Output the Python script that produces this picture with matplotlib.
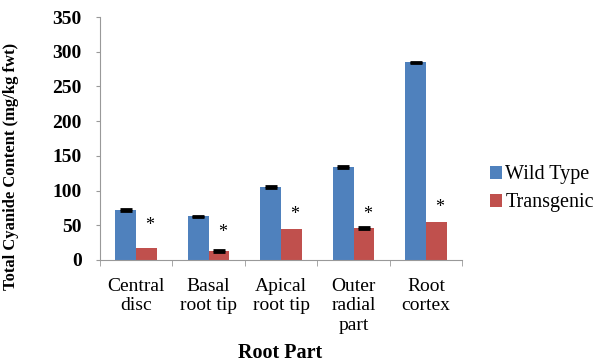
import numpy as np
import matplotlib.pyplot as plt

parts = ['Central\ndisc', 'Basal\nroot tip', 'Apical\nroot tip', 'Outer\nradial\npart', 'Root\ncortex']
wild_type = [72, 63, 105, 134, 285]
wild_err = [1.5, 1.0, 1.0, 1.0, 1.0]
transgenic = [17, 13, 45, 46, 54]
trans_err = [0, 1.0, 0, 0.8, 0]
star_y = [49, 40, 65, 65, 75]

plt.rcParams['font.family'] = ['Liberation Serif', 'DejaVu Serif']

fig = plt.figure(figsize=(5.98, 3.64), dpi=100)
ax = fig.add_axes([0.167, 0.286, 0.606, 0.667])

x = np.arange(len(parts))
w = 0.285
ax.bar(x - w/2, wild_type, w, color='#4F81BD', label='Wild Type')
ax.bar(x + w/2, transgenic, w, color='#C0504D', label='Transgenic')

# error bars only where an error was recorded
ekw = dict(fmt='none', ecolor='black', capsize=4, elinewidth=1, capthick=2)
for xs, vals, errs in [(x - w/2, wild_type, wild_err), (x + w/2, transgenic, trans_err)]:
    for xi, v, e in zip(xs, vals, errs):
        if e > 0:
            ax.errorbar(xi, v, yerr=e, **ekw)

# significance markers
for xi, sy in zip(x, star_y):
    ax.text(xi + w/2 + 0.05, sy, '*', ha='center', va='center', fontsize=13)

ax.set_xlim(-0.5, len(parts) - 0.5)
ax.set_ylim(0, 350)
ax.set_yticks(np.arange(0, 351, 50))
ax.set_yticklabels([str(v) for v in range(0, 351, 50)], fontweight='bold', fontsize=14)
ax.set_xticks(x)
ax.set_xticklabels(parts, fontsize=14, linespacing=1.18)
ax.tick_params(axis='x', length=0, pad=13)
ax.set_xticks(np.arange(-0.5, len(parts), 1), minor=True)
ax.tick_params(axis='x', which='minor', length=4, color='#999999')
ax.tick_params(axis='y', length=3, color='#999999', pad=10)

for s in ['top', 'right']:
    ax.spines[s].set_visible(False)
for s in ['left', 'bottom']:
    ax.spines[s].set_color('#999999')

fig.text(11/598, 1 - 166/364, 'Total Cyanide Content (mg/kg fwt)', rotation=90,
         ha='center', va='center', fontweight='bold', fontsize=12)
fig.text(0.468, 1 - 353/364, 'Root Part', ha='center', va='center',
         fontweight='bold', fontsize=14.5)

ax.legend(loc='center left', bbox_to_anchor=(1.027, 0.293), frameon=False, fontsize=14.5,
          handlelength=0.6, handleheight=0.6, handletextpad=0.15, labelspacing=0.45)

fig.savefig('out.png', dpi=100)
